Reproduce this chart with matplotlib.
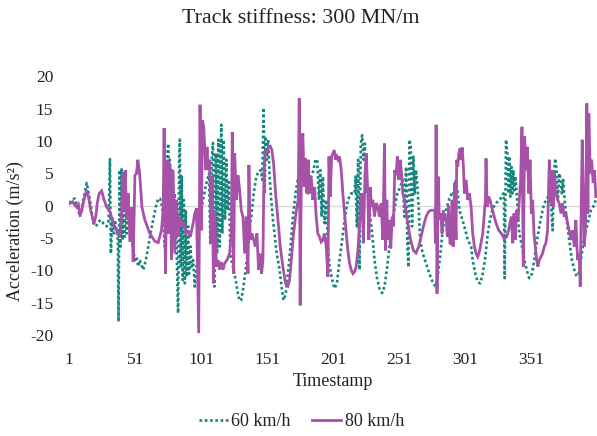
import matplotlib
matplotlib.use("Agg")
import matplotlib.pyplot as plt
from matplotlib.lines import Line2D

# ---- data ----
t_60 = [1, 3.6, 5.3, 7.1, 9.1, 11.6, 14.2, 16.7, 19.2, 21.2, 23.0, 24.7, 26.7, 29.3, 30.8,
        31.8, 32.5, 33.5, 34.6, 35.6, 36.8, 37.8, 38.3, 39.1, 39.8, 40.6, 41.4, 42.1, 42.9,
        43.6, 44.4, 45.4, 46.4, 47.4, 48.2, 49.4, 50.7, 51.9, 53.2, 54.5, 55.7, 57.0, 59.0,
        60.8, 62.5, 64.5, 66.5, 68.3, 69.6, 70.8, 72.1, 73.3, 74.1, 75.1, 75.9, 76.6, 77.1,
        77.9, 78.6, 79.6, 80.9, 82.2, 83.4, 84.2, 84.7, 85.4, 86.2, 86.9, 87.7, 88.5, 89.2,
        90.0, 91.0, 91.7, 92.7, 93.7, 94.8, 96.0, 97.3, 98.5,
        99.8, 102.3, 104.8, 106.8, 107.8, 108.8, 109.8, 110.8, 111.9, 112.9, 113.9, 114.9,
        116.1, 116.9, 117.9, 118.9, 119.9, 120.9, 121.9, 122.9, 123.7, 124.9, 127.0, 128.7,
        130.0, 131.2, 132.5, 134.5, 136.3, 137.5, 138.8, 140.6, 142.6, 144.3, 145.9, 147.1,
        148.1, 148.9, 149.6, 150.6, 151.6, 152.7, 153.9, 155.2, 156.4, 157.7, 159.0, 160.2,
        161.7, 163.2, 164.7, 166.5, 168.5, 170.3, 172.3, 174.1, 176.6, 179.1, 181.6, 184.1,
        185.9, 187.4, 188.7, 190.0, 191.0, 192.0, 193.0, 194.2, 195.5,
        196.8, 198.1, 200.1, 201.8, 203.6, 205.6, 207.6, 209.4, 211.9, 214.4, 217.0, 217.7,
        218.7, 219.7, 220.7, 221.7, 222.7, 223.8, 224.8, 225.8, 227.0, 228.3, 230.3, 232.1,
        233.8, 235.8, 237.9, 239.6, 241.4, 243.4, 245.4, 247.4, 249.4, 251.5, 253.5, 254.7,
        256.0, 257.0, 257.8, 258.5, 259.5, 260.5, 261.5, 262.5, 263.5, 264.6, 265.6, 266.6,
        268.6, 271.1, 273.6, 276.1, 278.2, 279.9, 281.7, 283.7, 286.2, 288.7, 291.3,
        292.3, 293.3, 294.8, 296.4, 300.1, 302.7, 305.2, 306.4, 308.4, 310.2, 312.0, 314.0,
        316.0, 317.8, 319.5, 321.5, 324.1, 326.6, 328.6, 329.6, 330.1, 330.6, 331.6, 332.6,
        333.4, 334.1, 334.9, 335.7, 336.4, 337.2, 337.9, 338.7, 339.7, 340.7, 341.7, 343.7,
        345.5, 347.2, 349.2, 351.3, 353.0, 354.8, 356.8, 358.8, 360.6, 362.4, 364.4, 365.6,
        366.9, 367.9, 368.9, 369.9, 370.9, 371.9, 372.9, 373.9, 374.9, 376.0, 377.5, 379.5,
        381.5, 383.3, 385.0, 386.5, 388.3, 390.1, 392.1, 394.1, 395.9, 397.6, 399.6]
acc_60 = [0.4, 1.0, 1.1, -0.2, -1.7, 0.9, 3.5, 0.9, -2.7, -3.2, -2.5, -2.2, -2.7, -3.2, -2.2,
          7.2, -7.4, -1.7, -4.3, -2.2, -3.8, -5.3, -17.9, 5.5, -6.3, 5.8, -5.3, 5.0, -4.8,
          4.0, -4.3, 1.9, -3.2, -1.7, -5.3, -6.9, -8.4, -7.9, -9.4, -8.4, -9.2, -9.9, -8.4,
          -6.3, -4.3, -2.2, -0.2, 1.1, 1.1, 0.4, -1.7, -6.3, -1.7, 7.6, 9.6, 4.5, 7.1,
          0.9, 5.5, -2.2, 1.9, -6.3, -16.6, 7.1, 10.2, -9.4, 4.5, -11.5, 0.9, -12.0, -0.7,
          -11.0, -3.2, -10.5, -6.3, -9.4, -8.4, -12.5, -9.4, -7.4,
          -1.7, 0.9, 3.5, 5.0, -6.1, 7.1, 9.7, -12.5, 8.1, -7.4, 10.2, -6.3,
          12.5, -4.3, 10.2, -2.2, 7.1, -0.7, 4.0, -7.4, -8.4, -9.4, -11.5, -13.6,
          -14.7, -14.6, -13.0, -9.9, -6.9, -3.2, -1.7, 1.9, 4.5, 5.3, 5.5, 4.0,
          15.1, 1.9, 10.7, 7.1, 10.2, 4.5, 0.9, -2.2, -4.3, -6.9, -8.4, -9.9,
          -12.5, -14.6, -13.8, -10.5, -6.3, -1.7, 1.9, 4.2, 4.5, 4.0, 1.9, 4.5,
          5.5, 7.1, 7.1, 0.9, 5.5, -1.7, 4.5, -2.7, 0.9,
          -6.3, -9.4, -11.5, -12.8, -12.0, -8.4, -5.3, -2.2, 0.9, 1.9, 1.9, 4.5,
          -3.2, 7.1, -9.9, 9.6, 10.9, 7.1, 9.6, 1.9, 2.9, -0.7, -4.3, -8.4,
          -11.0, -12.8, -13.5, -12.5, -9.9, -6.3, -2.7, -0.2, 1.9, 2.9, 4.0, -1.7,
          6.0, -6.3, -9.5, 10.2, 9.1, -3.2, 7.6, 1.9, 5.5, 2.9, -0.7, -5.3,
          -7.4, -8.9, -10.5, -11.8, -12.5, -11.0, -7.9, -3.8, -0.7, 1.1, 2.2,
          1.9, 4.0, 2.5, -0.7, -3.2, -5.3, -6.3, -8.4, -10.5, -11.8, -12.0, -10.5,
          -7.9, -4.3, -2.2, -0.4, 0.4, 0.9, 1.4, 1.9, 0.9, -11.2, 10.2, 8.1,
          1.9, 7.6, 1.4, 6.0, 1.9, 5.5, 2.4, 4.5, 1.9, -1.7, -4.3, -6.3,
          -8.4, -9.9, -11.2, -10.5, -8.4, -5.8, -3.2, -1.2, 0.4, 0.9, 1.9, 0.9,
          -3.8, 5.0, 7.3, 5.5, 0.9, 5.0, 4.0, 1.9, 4.0, 0.9, -2.2, -5.3,
          -8.4, -9.9, -10.9, -10.5, -8.4, -5.8, -3.8, -2.2, -0.7, -0.2, 0.9]

t_80 = [1, 3.6, 5.1, 6.6, 7.9, 9.1, 10.4, 12.1, 14.2, 15.7, 17.2, 19.7, 21.2, 22.2, 23.7,
        25.5, 27.2, 29.3, 31.8, 34.3, 36.8, 38.8, 40.6, 41.4, 42.4, 43.4, 44.4, 45.6, 46.9,
        48.2, 49.4, 50.7, 51.9, 52.9, 54.0, 55.0, 56.0, 58.2, 62.0, 65.8, 68.3, 70.8, 72.1,
        72.8, 73.8, 75.1, 76.1, 77.1, 78.4, 79.6, 80.9, 82.2, 83.4, 84.7, 85.9, 87.7, 89.2,
        91.0, 92.7, 94.8, 96.0, 97.3,
        99.0, 100.0, 101.0, 101.8, 102.8, 103.5, 104.3, 105.3, 106.3, 107.3, 108.3, 109.3,
        110.1, 111.1, 112.4, 113.6, 114.9, 116.1, 117.4, 118.6, 120.4, 122.4, 123.7, 124.4,
        125.5, 126.2, 127.5, 128.7, 130.0, 131.2, 132.5, 133.8, 135.0, 136.3, 137.0, 138.0,
        139.3, 140.6, 141.8, 143.1, 144.3, 145.6, 146.6, 147.6, 148.4, 149.4, 150.6, 151.9,
        153.2, 154.4, 155.7, 157.2, 159.0, 160.7, 162.7, 164.7, 166.5, 167.8, 169.3, 170.8,
        172.3, 173.3, 174.3, 175.1, 175.8, 176.8, 177.8, 178.9, 179.9, 180.9, 181.9, 182.9,
        184.1, 185.4, 186.7, 187.9, 189.2, 190.4, 191.7, 193.0, 194.2, 195.5,
        196.8, 197.6, 198.6, 199.6, 200.6, 201.6, 202.6, 203.6, 204.6, 205.6, 206.9, 208.1,
        209.4, 210.7, 211.9, 213.2, 214.4, 215.7, 217.0, 218.2, 219.5, 220.7, 222.0, 222.7,
        223.7, 224.8, 225.8, 227.0, 227.8, 228.8, 229.8, 230.8, 232.1, 233.3, 234.6, 235.8,
        237.1, 238.4, 239.6, 240.4, 241.4, 242.1, 243.4, 244.4, 245.4, 246.4, 247.4, 248.4,
        249.4, 250.5, 251.5, 252.5, 253.5, 254.7, 256.0, 257.3, 258.5, 259.8, 261.5, 263.5,
        265.6, 267.3, 269.1, 271.1, 273.1, 274.9, 276.6, 277.7, 278.2, 278.7, 279.4, 280.2,
        281.2, 282.2, 283.2, 284.2, 285.2, 286.2, 287.2, 288.2, 289.2,
        290.1, 290.8, 291.8, 292.6, 293.8, 294.3, 295.1, 295.9, 296.9, 297.6, 298.4, 299.4,
        300.1, 301.4, 302.7, 303.9, 305.2, 306.4, 307.7, 309.0, 310.2, 311.5, 312.7, 314.0,
        315.2, 316.0, 316.5, 317.3, 318.5, 319.5, 320.8, 322.0, 324.1, 326.1, 328.1, 330.4,
        332.1, 333.6, 334.6, 335.7, 336.7, 337.7, 338.7, 339.7, 340.7, 341.7, 342.7, 343.7,
        344.7, 345.7, 346.7, 347.7, 348.8, 349.8, 350.8, 351.8, 352.8, 353.8, 354.8, 355.8,
        356.8, 358.1, 359.3, 360.6, 361.8, 363.1, 364.4, 365.4, 366.4, 367.4, 368.4, 369.4,
        370.7, 371.9, 373.2, 374.4, 375.7, 377.0, 378.2, 379.5, 380.7, 382.0, 383.3, 384.5,
        385.8, 387.0, 387.8, 388.5, 389.3, 390.1, 390.8, 391.6, 392.1, 392.8, 393.6, 394.3,
        395.4, 396.4, 397.6, 398.6, 399.6]
acc_80 = [0.3, 0.6, 0.1, -0.2, 0.2, -1.3, -0.9, 0.9, 2.4, 1.2, -0.7, -2.8, -1.5, 0.4, 1.9,
          2.3, 1.0, -0.2, -0.9, -2.7, -3.8, -4.8, -1.7, 5.0, -0.7, 5.5, -2.2, 1.9, -5.6,
          -0.2, -8.7, 4.7, 5.0, 7.1, 5.5, 2.9, -0.2, -2.2, -4.3, -5.5, -5.7, -3.8, -0.7,
          12.0, -10.5, 7.1, -4.3, 6.5, -8.4, 5.5, -7.4, 0.9, -4.8, -1.7, -3.2, -2.5, -4.3,
          -4.0, -4.8, -2.7, -1.2, -0.4,
          -19.7, 15.6, -3.8, 13.2, 12.2, 9.1, 5.5, 9.1, 5.5, 7.1, -5.8, 4.5,
          -12.0, -0.7, -9.4, -8.4, -9.9, -8.7, -9.9, -8.9, -8.4, -7.4, -4.3, 11.4,
          -10.5, 8.1, 0.9, 4.7, 2.4, -0.7, -1.7, -7.4, -1.7, -10.5, 6.3, -5.3,
          -4.3, -5.3, -6.3, -4.3, -9.9, -7.4, -10.5, -8.4, 5.5, 8.6, 8.1, 9.1,
          9.2, 8.6, 6.5, 1.9, -2.2, -6.3, -9.4, -12.0, -12.4, -11.5, -7.9, -4.3,
          -1.7, -0.2, 0.9, 16.6, -15.4, 7.1, 11.2, 2.9, 7.3, 1.9, 7.1, 1.9,
          4.5, 0.9, 2.9, -1.7, -4.3, -4.8, -5.6, -5.3, -4.3, -6.3,
          -11.0, 7.6, 1.4, 7.6, 8.1, 8.6, 7.1, 7.6, 7.1, 7.6, 5.5, 1.9,
          -1.2, -4.3, -6.9, -8.9, -9.9, -10.5, -10.2, -9.4, -6.9, -3.2, 0.9, 1.9,
          -5.8, 4.5, 8.1, 1.9, -5.3, 2.9, -0.2, 0.9, -1.7, 0.4, -0.2, -1.7,
          0.4, -5.3, 9.6, -6.9, 0.9, -5.3, -2.2, -6.6, -1.7, -3.2, 5.5, 4.7,
          7.6, 4.0, 7.1, 5.0, 1.9, 0.9, -1.2, -2.7, -4.3, -5.6, -6.9, -7.3,
          -6.3, -4.8, -3.2, -1.7, -0.9, -0.7, -0.7, -0.7, -5.8, 12.5, -13.6, 4.5,
          -2.2, -1.2, -4.3, -0.7, -2.2, -1.7, -4.8, 0.0, -5.8,
          -5.9, 0.9, -6.3, 3.5, -5.3, 7.1, 6.0, 8.1, 8.9, 7.1, 9.0, 6.0,
          1.9, 4.0, 0.9, 1.9, -0.2, -4.3, -6.3, -7.4, -7.9, -7.1, -5.8, -4.3,
          -1.2, 0.9, 7.3, -0.2, 1.4, 0.9, -0.2, -1.2, -2.7, -3.8, -4.3, -5.1,
          -4.8, -3.8, -2.7, -1.7, -5.8, -1.2, -5.3, -0.7, -2.2, 0.9, 4.0, 12.2,
          -9.4, 10.7, 5.5, 9.1, 1.9, 7.1, -1.2, 0.9, -4.3, -6.3, -8.4, -9.4,
          -8.4, -7.9, -7.4, -6.3, -5.8, -3.8, 7.1, 0.4, 5.5, -0.2, 5.0, 1.9,
          0.9, 0.4, -1.2, 0.4, -1.7, -1.2, -2.7, -3.8, -5.3, -3.8, -6.3, -2.2,
          -8.4, -7.4, -12.5, -1.2, 10.2, 2.9, -6.3, -4.3, -0.2, 15.8, -1.2, 14.3,
          5.0, 7.1, 3.5, 5.5, 1.4]

series_labels = ["60 km/h", "80 km/h"]
x_ticks = [1, 51, 101, 151, 201, 251, 301, 351]
y_ticks = [-20, -15, -10, -5, 0, 5, 10, 15, 20]

# ---- style ----
plt.rcParams['font.family'] = ['Liberation Serif', 'DejaVu Serif']
teal = '#16857c'
magenta = '#a752a8'

fig = plt.figure(figsize=(5.97, 4.36), dpi=100)
ax = fig.add_axes([0.1149, 0.2314, 0.8851, 0.5936])

ax.axhline(0, color='#d9d9d9', lw=1.0, zorder=1)
ax.plot(t_60, acc_60, color=teal, lw=1.9, linestyle=(0, (1, 1.0)), zorder=2,
        solid_capstyle='butt', dash_capstyle='butt')
ax.plot(t_80, acc_80, color=magenta, lw=2.0, zorder=3, solid_joinstyle='miter')

ax.set_xlim(0.5, 400.5)
ax.set_ylim(-20, 20)
ax.set_xticks(x_ticks)
ax.set_xticklabels([str(v) for v in x_ticks])
ax.set_yticks(y_ticks)
ax.set_yticklabels([str(v) for v in y_ticks])
ax.tick_params(axis='both', length=0, labelsize=12.5, colors='#222222')
ax.tick_params(axis='x', pad=12)
ax.tick_params(axis='y', pad=11)
for s in ax.spines.values():
    s.set_visible(False)

ax.set_xlabel("Timestamp", fontsize=13, color='#222222', labelpad=4)
fig.text(0.025, 0.47, "Acceleration (m/s²)", rotation=90, fontsize=13,
         color='#222222', ha='center', va='center')
fig.text(0.503, 0.958, "Track stiffness: 300 MN/m", fontsize=15.8,
         color='#222222', ha='center', va='center')

handles = [Line2D([], [], color=teal, lw=1.9, linestyle=(0, (1, 1.0))),
           Line2D([], [], color=magenta, lw=2.0)]
fig.legend(handles, series_labels, loc='center', bbox_to_anchor=(0.505, 0.033),
           ncol=2, frameon=False, fontsize=13, handlelength=1.6, handletextpad=0.2,
           columnspacing=1.2, labelcolor='#222222')

fig.savefig("out.png", dpi=100)
